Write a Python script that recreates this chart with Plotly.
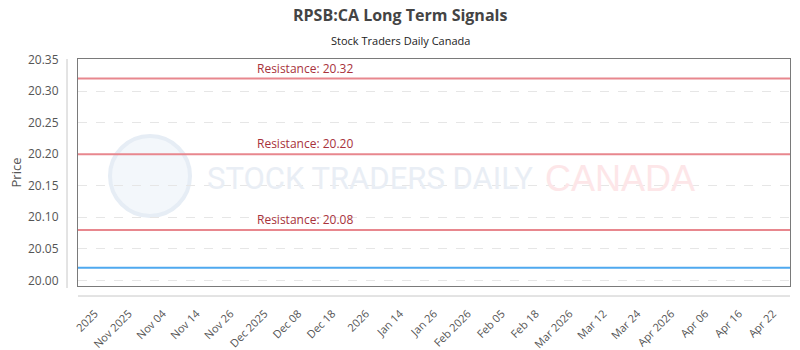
import plotly.graph_objects as go

# ---- data ----
tick_labels = ["2025", "Nov 2025", "Nov 04", "Nov 14", "Nov 26", "Dec 2025", "Dec 08",
               "Dec 18", "2026", "Jan 14", "Jan 26", "Feb 2026", "Feb 05", "Feb 18",
               "Mar 2026", "Mar 12", "Mar 24", "Apr 2026", "Apr 06", "Apr 16", "Apr 22"]
resistance_levels = [20.32, 20.20, 20.08]
price_level = 20.02
y_ticks = [20.00, 20.05, 20.10, 20.15, 20.20, 20.25, 20.30, 20.35]

x_idx = list(range(len(tick_labels)))

L, R, T, B = 78, 790, 59, 286
PW, PH = R - L, B - T


def px(x):
    return (x - L) / PW


def py(y):
    return (B - y) / PH


fig = go.Figure()

# invisible trace to establish axes
fig.add_trace(go.Scatter(x=x_idx, y=[price_level] * len(x_idx), mode="lines",
                         line=dict(color="rgba(0,0,0,0)"), hoverinfo="skip", showlegend=False))

shapes = []
annotations = []

# watermark logo
shapes.append(dict(type="circle", xref="paper", yref="paper",
                   x0=px(110), x1=px(190), y0=py(216), y1=py(136),
                   line=dict(color="#e6edf5", width=4), fillcolor="rgba(238,243,250,0.7)",
                   layer="below"))
annotations.append(dict(text="STOCK TRADERS DAILY", xref="paper", yref="paper",
                        x=px(205), y=py(178), xanchor="left", yanchor="middle",
                        showarrow=False,
                        font=dict(family="Roboto", size=31, color="#e9eef5")))
annotations.append(dict(text="CANADA", xref="paper", yref="paper",
                        x=px(543), y=py(178), xanchor="left", yanchor="middle",
                        showarrow=False,
                        font=dict(family="Liberation Sans", size=36, color="#fde6e8")))

# resistance lines
for lvl in resistance_levels:
    shapes.append(dict(type="line", xref="paper", yref="y", x0=0, x1=1, y0=lvl, y1=lvl,
                       line=dict(color="#e8878e", width=2)))
    annotations.append(dict(text=f"Resistance: {lvl:.2f}", xref="paper", yref="y",
                            x=px(305), y=lvl, xanchor="center", yanchor="bottom", yshift=0,
                            showarrow=False,
                            font=dict(family="Open Sans", size=12, color="#a8323b")))

# price line
shapes.append(dict(type="line", xref="paper", yref="y", x0=0, x1=1, y0=price_level, y1=price_level,
                   line=dict(color="#4fa9ef", width=2)))

# offset axis lines
shapes.append(dict(type="line", xref="paper", yref="paper",
                   x0=px(67), x1=px(67), y0=py(288), y1=1,
                   line=dict(color="#c8c8c8", width=1)))
shapes.append(dict(type="line", xref="paper", yref="paper",
                   x0=0, x1=1, y0=py(296), y1=py(296),
                   line=dict(color="#c8c8c8", width=1)))

# titles
annotations.append(dict(text="<b>RPSB:CA Long Term Signals</b>", xref="paper", yref="paper",
                        x=px(400), y=py(15), xanchor="center", yanchor="middle", showarrow=False,
                        font=dict(family="Open Sans", size=16, color="#444444")))
annotations.append(dict(text="Stock Traders Daily Canada", xref="paper", yref="paper",
                        x=px(400), y=py(40), xanchor="center", yanchor="middle", showarrow=False,
                        font=dict(family="Open Sans", size=11, color="#222222")))

fig.update_layout(
    width=800, height=350,
    margin=dict(l=L, r=800 - R, t=T, b=350 - B),
    paper_bgcolor="white", plot_bgcolor="white",
    showlegend=False,
    shapes=shapes, annotations=annotations,
    font=dict(family="Open Sans", color="#555555"),
    xaxis=dict(range=[-0.5, len(tick_labels) - 0.5], tickmode="array", tickvals=x_idx,
               ticktext=tick_labels, tickangle=-45, showgrid=False, zeroline=False,
               showline=True, mirror=True, linecolor="#7a7a7a", linewidth=1,
               ticks="", tickfont=dict(size=11, color="#555555"),
               ticklabelstandoff=16, automargin=False, fixedrange=True),
    yaxis=dict(range=[19.991, 20.351], tickmode="array", tickvals=y_ticks,
               ticktext=[f"{v:.2f}" for v in y_ticks],
               showgrid=True, gridcolor="#e6e6e6", griddash="dash", gridwidth=1,
               zeroline=False, showline=True, mirror=True, linecolor="#7a7a7a", linewidth=1,
               ticks="",
               tickfont=dict(size=12, color="#555555"), ticklabelstandoff=16,
               title=dict(text="Price", font=dict(size=13, color="#555555"), standoff=3),
               automargin=False, fixedrange=True),
)

fig.write_html("out.html")
